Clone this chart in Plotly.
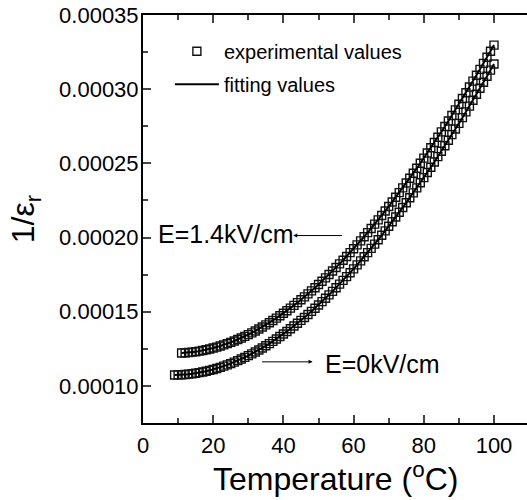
import plotly.graph_objects as go

# temperatures (degC) for the two field values
temp_e0 = [9, 10, 11, 12, 13, 14, 15, 16, 17, 18, 19, 20, 21, 22, 23, 24, 25, 26, 27, 28,
           29, 30, 31, 32, 33, 34, 35, 36, 37, 38, 39, 40, 41, 42, 43, 44, 45, 46, 47, 48,
           49, 50, 51, 52, 53, 54, 55, 56, 57, 58, 59, 60, 61, 62, 63, 64, 65, 66, 67, 68,
           69, 70, 71, 72, 73, 74, 75, 76, 77, 78, 79, 80, 81, 82, 83, 84, 85, 86, 87, 88,
           89, 90, 91, 92, 93, 94, 95, 96, 97, 98, 99, 100]
temp_e14 = [11, 12, 13, 14, 15, 16, 17, 18, 19, 20, 21, 22, 23, 24, 25, 26, 27, 28,
            29, 30, 31, 32, 33, 34, 35, 36, 37, 38, 39, 40, 41, 42, 43, 44, 45, 46, 47, 48,
            49, 50, 51, 52, 53, 54, 55, 56, 57, 58, 59, 60, 61, 62, 63, 64, 65, 66, 67, 68,
            69, 70, 71, 72, 73, 74, 75, 76, 77, 78, 79, 80, 81, 82, 83, 84, 85, 86, 87, 88,
            89, 90, 91, 92, 93, 94, 95, 96, 97, 98, 99, 100]

# 1/eps_r in units of 1e-4
inv_eps_e0 = [1.0740, 1.0744, 1.0755, 1.0771, 1.0793, 1.0821, 1.0855, 1.0895, 1.0940, 1.0991,
              1.1048, 1.1110, 1.1178, 1.1251, 1.1331, 1.1415, 1.1505, 1.1601, 1.1702, 1.1809,
              1.1920, 1.2038, 1.2160, 1.2288, 1.2421, 1.2559, 1.2703, 1.2851, 1.3005, 1.3164,
              1.3328, 1.3497, 1.3671, 1.3850, 1.4034, 1.4222, 1.4416, 1.4615, 1.4818, 1.5026,
              1.5239, 1.5457, 1.5679, 1.5906, 1.6138, 1.6374, 1.6615, 1.6861, 1.7111, 1.7365,
              1.7624, 1.7887, 1.8155, 1.8427, 1.8704, 1.8984, 1.9269, 1.9559, 1.9852, 2.0150,
              2.0452, 2.0758, 2.1068, 2.1382, 2.1700, 2.2022, 2.2348, 2.2678, 2.3012, 2.3350,
              2.3691, 2.4037, 2.4386, 2.4739, 2.5096, 2.5456, 2.5820, 2.6188, 2.6559, 2.6934,
              2.7313, 2.7695, 2.8080, 2.8469, 2.8861, 2.9257, 2.9656, 3.0059, 3.0465, 3.0873,
              3.1285, 3.1701]
inv_eps_e14 = [1.2215, 1.2229, 1.2249, 1.2275, 1.2306, 1.2344, 1.2387, 1.2436, 1.2491, 1.2551,
               1.2617, 1.2688, 1.2765, 1.2847, 1.2935, 1.3029, 1.3128, 1.3233, 1.3342, 1.3458,
               1.3577, 1.3703, 1.3834, 1.3970, 1.4112, 1.4258, 1.4410, 1.4566, 1.4728, 1.4895,
               1.5067, 1.5244, 1.5426, 1.5612, 1.5804, 1.6000, 1.6201, 1.6407, 1.6618, 1.6834,
               1.7054, 1.7279, 1.7509, 1.7742, 1.7981, 1.8225, 1.8473, 1.8725, 1.8982, 1.9243,
               1.9508, 1.9778, 2.0053, 2.0331, 2.0614, 2.0902, 2.1193, 2.1489, 2.1788, 2.2092,
               2.2400, 2.2712, 2.3028, 2.3348, 2.3672, 2.3999, 2.4331, 2.4667, 2.5006, 2.5350,
               2.5697, 2.6048, 2.6403, 2.6760, 2.7122, 2.7488, 2.7857, 2.8230, 2.8607, 2.8987,
               2.9370, 2.9756, 3.0146, 3.0540, 3.0937, 3.1338, 3.1742, 3.2148, 3.2557, 3.2971]

y_e0 = [v * 1e-4 for v in inv_eps_e0]
y_e14 = [v * 1e-4 for v in inv_eps_e14]

FONT = "Liberation Sans, Arial, sans-serif"

fig = go.Figure()

marker_style = dict(symbol="square-open", size=8, color="#111111", line=dict(width=1.4))

# experimental points
fig.add_trace(go.Scatter(x=temp_e0, y=y_e0, mode="markers", marker=marker_style,
                         name="experimental values", legendgroup="a", showlegend=True))
fig.add_trace(go.Scatter(x=temp_e14, y=y_e14, mode="markers", marker=marker_style,
                         name="experimental values", legendgroup="a", showlegend=False))

# fitting curves
fig.add_trace(go.Scatter(x=temp_e0, y=y_e0, mode="lines", line=dict(color="black", width=2),
                         name="fitting values", legendgroup="b", showlegend=True))
fig.add_trace(go.Scatter(x=temp_e14, y=y_e14, mode="lines", line=dict(color="black", width=2),
                         name="fitting values", legendgroup="b", showlegend=False))

# labels and arrows
fig.add_annotation(x=3.6, y=2.027e-4, text="E=1.4kV/cm", showarrow=False,
                   xanchor="left", font=dict(size=25, color="black", family=FONT))
fig.add_annotation(x=42.8, y=2.0135e-4, ax=57.1, ay=2.0135e-4, axref="x", ayref="y",
                   text="", showarrow=True, arrowhead=2, arrowsize=0.8, arrowwidth=1,
                   arrowcolor="black")
fig.add_annotation(x=51.3, y=1.149e-4, text="E=0kV/cm", showarrow=False,
                   xanchor="left", font=dict(size=25, color="black", family=FONT))
fig.add_annotation(x=48.3, y=1.162e-4, ax=33.5, ay=1.162e-4, axref="x", ayref="y",
                   text="", showarrow=True, arrowhead=2, arrowsize=0.8, arrowwidth=1,
                   arrowcolor="black")

# x axis title as annotation so it can sit a bit closer to the tick labels
fig.add_annotation(x=0.5, y=-0.132, xref="paper", yref="paper", yanchor="middle",
                   text="Temperature (<sup>o</sup>C)", showarrow=False,
                   font=dict(size=32, color="black", family=FONT))

fig.update_xaxes(
    range=[0, 109.4], tick0=0, dtick=20, ticks="inside", ticklen=8, tickwidth=1.5,
    minor=dict(ticks="inside", ticklen=5, tickwidth=1.5, dtick=10),
    showline=True, linecolor="black", linewidth=2, mirror="ticks",
    showgrid=False, zeroline=False, automargin=False, ticklabelstandoff=2,
    tickfont=dict(size=22, color="black", family=FONT),
)
fig.update_yaxes(
    range=[0.000075, 0.00035], tick0=0, dtick=0.00005, tickformat=".5f",
    ticks="inside", ticklen=8, tickwidth=1.5,
    minor=dict(ticks="inside", ticklen=5, tickwidth=1.5, dtick=0.000025),
    showline=True, linecolor="black", linewidth=2, mirror=False,
    showgrid=False, zeroline=False, automargin=False, ticklabelstandoff=-2,
    tickfont=dict(size=22, color="black", family=FONT),
    title=dict(text="1/ε<sub>r</sub>", font=dict(size=32, color="black", family=FONT),
               standoff=15),
)

fig.update_layout(
    width=527, height=500,
    margin=dict(l=143, r=0, t=15, b=77),
    paper_bgcolor="white", plot_bgcolor="white",
    font=dict(family=FONT, color="black"),
    legend=dict(x=0.07, y=0.959, xanchor="left", yanchor="top", itemwidth=44,
                font=dict(size=20, color="black", family=FONT),
                bgcolor="rgba(0,0,0,0)", tracegroupgap=4),
)

# drop the default page margin so the figure sits at the window's corner
fig.write_html("out.html", config={"displayModeBar": False},
               post_script="document.body.style.margin='0';")
